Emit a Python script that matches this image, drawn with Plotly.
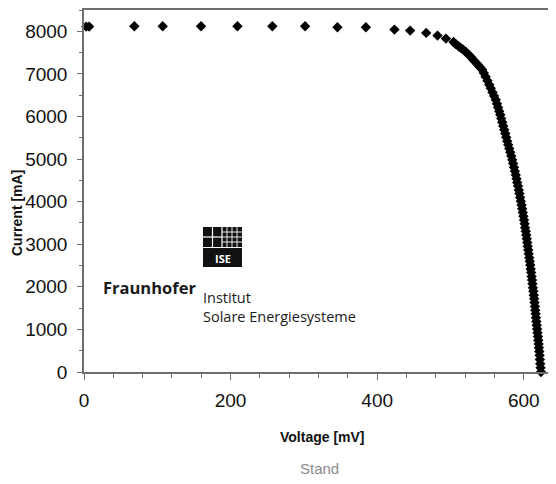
import plotly.graph_objects as go

# Sparse sweep points (mV, mA)
voltage_sparse = [3, 7, 68.7, 107.4, 159.7, 209.3, 257, 301.7, 345.8, 384.6,
                  423.6, 445, 466.9, 482.3, 493.8, 504.2]
current_sparse = [8110, 8110, 8118, 8118, 8118, 8118, 8118, 8118, 8094, 8094,
                  8040, 8016, 7962, 7899, 7828, 7750]

# Dense points along the knee and drop (mV, mA)
voltage_dense = [507, 511, 514, 517.4, 521, 524.5, 528, 531, 534, 537, 540, 543.3,
                 545.5, 548, 550.5, 553, 555, 557.3, 559.5, 561.8, 563.4, 565, 566.5, 568,
                 569.3, 570.7, 572, 573.4, 574.8, 576.1, 577.5, 578.8, 580.2, 581.6, 583, 584.3,
                 585.5, 586.7, 587.9, 589.1, 590.1, 591.1, 592.2, 593.2, 594.1, 595.1, 596, 597,
                 597.8, 598.7, 599.5, 600.4, 601.2, 601.9, 602.7, 603.4, 604.1, 604.8, 605.4, 606.1,
                 606.8, 607.5, 608.2, 608.9, 609.5, 610.1, 610.7, 611.3, 611.9, 612.5, 613.1, 613.7,
                 614.2, 614.7, 615.2, 615.7, 616.2, 616.7, 617.2, 617.7, 618.2, 618.7, 619.3, 619.8,
                 620.3, 620.7, 621.2, 621.6, 622, 622.5, 623, 623.5]
current_dense = [7700, 7650, 7610, 7569, 7515, 7455, 7395, 7334, 7280, 7222, 7162, 7099,
                 7020, 6930, 6840, 6746, 6660, 6570, 6480, 6393, 6300, 6210, 6125, 6040,
                 5950, 5865, 5775, 5687, 5600, 5510, 5420, 5334, 5245, 5160, 5070, 4981,
                 4895, 4805, 4715, 4628, 4540, 4450, 4365, 4275, 4190, 4100, 4010, 3922,
                 3835, 3745, 3655, 3569, 3480, 3390, 3305, 3216, 3130, 3040, 2950, 2864,
                 2775, 2685, 2600, 2511, 2420, 2335, 2245, 2158, 2070, 1980, 1895, 1805,
                 1720, 1630, 1540, 1452, 1365, 1275, 1185, 1099, 1010, 920, 835, 746,
                 660, 570, 480, 393, 295, 195, 100, 0]

x_ticks = [0, 200, 400, 600]
y_ticks = [0, 1000, 2000, 3000, 4000, 5000, 6000, 7000, 8000]

# page is offset by the default 8px body margin
OFF = 8
W, H = 556 - OFF, 484 - OFF
# plot area in page pixels: x 84..556, y 10..372
L, R, T, B = 84 - OFF, 0, 10 - OFF, 484 - 372
PW, PH = W - L - R, H - T - B

def px(x):
    return (x - 84) / PW

def py(y):
    return (372 - y) / PH

fig = go.Figure()
fig.add_trace(go.Scatter(
    x=voltage_sparse + voltage_dense,
    y=current_sparse + current_dense,
    mode="markers",
    marker=dict(symbol="diamond", size=8, color="black", line=dict(width=0)),
    cliponaxis=False,
    showlegend=False,
))

axis_col = "#6e6e6e"
fig.update_xaxes(
    range=[0, 644], tickvals=x_ticks, ticktext=[str(v) for v in x_ticks],
    showline=True, linecolor=axis_col, linewidth=1.5, mirror=True,
    ticks="outside", ticklen=6, tickcolor=axis_col, tickwidth=1,
    minor=dict(dtick=40, ticks="outside", ticklen=4, tickcolor=axis_col),
    showgrid=False, zeroline=False, automargin=False,
    tickfont=dict(family="Liberation Sans, Arial", size=19, color="#111"),
    ticklabelstandoff=4,
)
fig.update_yaxes(
    range=[0, 8500], tickvals=y_ticks, ticktext=[str(v) for v in y_ticks],
    showline=True, linecolor=axis_col, linewidth=1.5,
    ticks="outside", ticklen=5, tickcolor=axis_col, tickwidth=1,
    minor=dict(dtick=500, ticks="outside", ticklen=3, tickcolor=axis_col),
    showgrid=False, zeroline=False, automargin=False,
    tickfont=dict(family="Liberation Sans, Arial", size=19, color="#111"),
    ticklabelstandoff=6,
)

annotations = [
    dict(text="<b>Voltage [mV]</b>", x=px(322), y=py(437), xref="paper", yref="paper",
         showarrow=False, xanchor="center", yanchor="middle",
         font=dict(family="Liberation Sans, Arial", size=14, color="#111")),
    dict(text="<b>Current [mA]</b>", x=px(17), y=py(213), xref="paper", yref="paper",
         showarrow=False, xanchor="center", yanchor="middle", textangle=-90,
         font=dict(family="Liberation Sans, Arial", size=14, color="#111")),
    dict(text="Stand", x=px(319), y=py(468), xref="paper", yref="paper",
         showarrow=False, xanchor="center", yanchor="middle",
         font=dict(family="Liberation Sans, Arial", size=15, color="#8a8a8a")),
    dict(text="<b>Fraunhofer</b>", x=px(101), y=py(287), xref="paper", yref="paper",
         showarrow=False, xanchor="left", yanchor="middle",
         font=dict(family="Open Sans", size=16.5, color="#1a1a1a")),
    dict(text="Institut", x=px(201), y=py(297), xref="paper", yref="paper",
         showarrow=False, xanchor="left", yanchor="middle",
         font=dict(family="Open Sans", size=14.5, color="#1a1a1a")),
    dict(text="Solare Energiesysteme", x=px(201), y=py(316), xref="paper", yref="paper",
         showarrow=False, xanchor="left", yanchor="middle",
         font=dict(family="Open Sans", size=14.5, color="#1a1a1a")),
    dict(text="<b>ISE</b>", x=px(222.5), y=py(258), xref="paper", yref="paper",
         showarrow=False, xanchor="center", yanchor="middle",
         font=dict(family="Open Sans", size=11, color="white")),
]

shapes = []
shapes.append(dict(type="rect", xref="paper", yref="paper",
                   x0=px(203), x1=px(242), y0=py(267), y1=py(227),
                   fillcolor="#111", line=dict(width=0)))
white = dict(color="white", width=1.2)
shapes.append(dict(type="line", xref="paper", yref="paper",
                   x0=px(203), x1=px(242), y0=py(247.5), y1=py(247.5), line=white))
for xv in [212.5, 222]:
    shapes.append(dict(type="line", xref="paper", yref="paper",
                       x0=px(xv), x1=px(xv), y0=py(247.5), y1=py(227), line=white))
shapes.append(dict(type="line", xref="paper", yref="paper",
                   x0=px(203), x1=px(222), y0=py(237), y1=py(237), line=white))
for xv in [227, 232, 237]:
    shapes.append(dict(type="line", xref="paper", yref="paper",
                       x0=px(xv), x1=px(xv), y0=py(247.5), y1=py(227),
                       line=dict(color="white", width=0.9)))
for yv in [232, 237, 242]:
    shapes.append(dict(type="line", xref="paper", yref="paper",
                       x0=px(222), x1=px(242), y0=py(yv), y1=py(yv),
                       line=dict(color="white", width=0.9)))

fig.update_layout(
    width=W, height=H,
    margin=dict(l=L, r=R, t=T, b=B),
    paper_bgcolor="white", plot_bgcolor="white",
    annotations=annotations, shapes=shapes,
)

fig.write_html("out.html")
